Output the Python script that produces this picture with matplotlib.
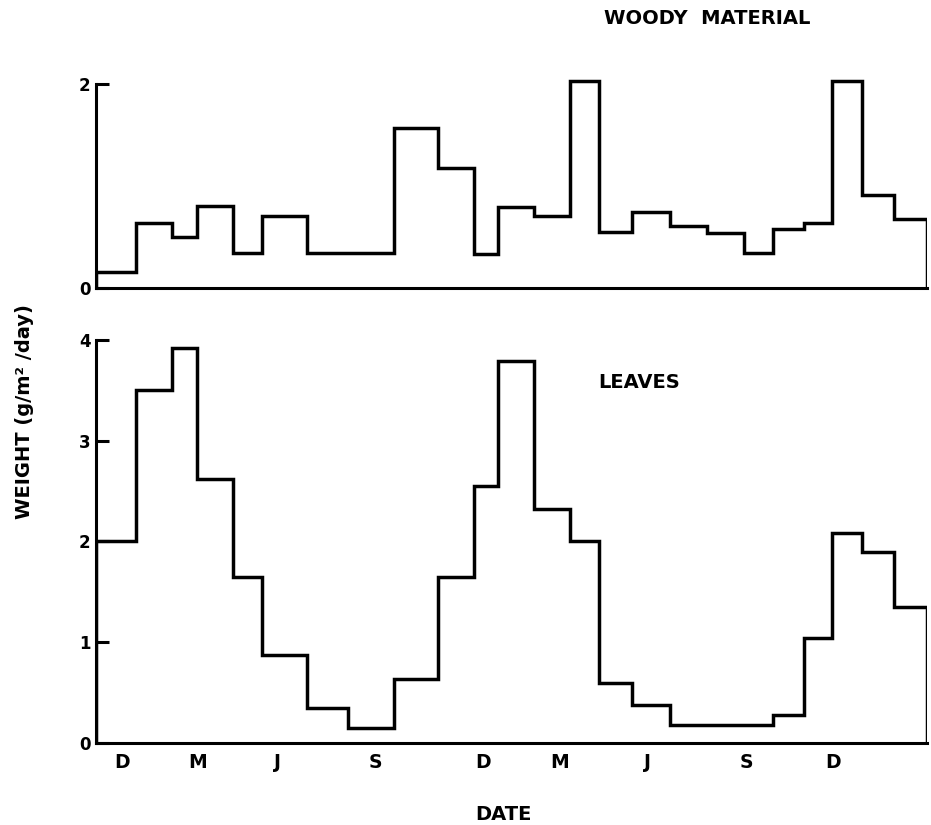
import matplotlib
matplotlib.use("Agg")
import matplotlib.pyplot as plt

plt.rcParams['font.family'] = ['DejaVu Sans']
plt.rcParams['font.weight'] = 'bold'

# sampling period edges (months from start of record)
edges = [0, 1.33, 2.54, 3.37, 4.55, 5.52, 7.01, 8.38, 9.91, 11.37, 12.57,
         13.36, 14.56, 15.76, 16.72, 17.82, 19.08, 20.31, 21.54, 22.5,
         23.55, 24.48, 25.48, 26.53, 27.63]

woody = [0.15, 0.64, 0.50, 0.80, 0.34, 0.70, 0.34, 0.34, 1.57, 1.18, 0.33,
         0.79, 0.70, 2.03, 0.55, 0.74, 0.61, 0.535, 0.34, 0.58, 0.64, 2.03,
         0.91, 0.67]

leaves = [2.00, 3.50, 3.92, 2.62, 1.65, 0.87, 0.35, 0.15, 0.64, 1.65, 2.55,
          3.79, 2.32, 2.00, 0.60, 0.38, 0.18, 0.18, 0.18, 0.28, 1.04, 2.08,
          1.90, 1.35]

month_pos = [0.86, 3.39, 6.02, 9.28, 12.86, 15.43, 18.35, 21.64, 24.5]
month_lab = ['D', 'M', 'J', 'S', 'D', 'M', 'J', 'S', 'D']

fig = plt.figure(figsize=(9.31, 8.25), dpi=100)
ax1 = fig.add_axes([0.1031, 0.6513, 0.8926, 0.253])
ax2 = fig.add_axes([0.1031, 0.0994, 0.8926, 0.4946])

def style(ax, top, yticks):
    ax.set_xlim(edges[0], edges[-1])
    ax.set_ylim(0, top)
    for s in ['top', 'right']:
        ax.spines[s].set_visible(False)
    for s in ['left', 'bottom']:
        ax.spines[s].set_linewidth(2.2)
    ax.spines['left'].set_bounds(0, yticks[-1])
    ax.set_yticks(yticks)
    ax.set_yticklabels([str(t) for t in yticks], fontsize=12, fontweight='bold')
    ax.tick_params(axis='y', direction='in', length=9, width=2.2, pad=4)

ax1.stairs(woody, edges, baseline=0, color='black', linewidth=2.5)
style(ax1, 2.05, [0, 2])
ax1.set_xticks([])

ax2.stairs(leaves, edges, baseline=0, color='black', linewidth=2.5)
style(ax2, 4.05, [0, 1, 2, 3, 4])
ax2.set_xticks(month_pos)
ax2.set_xticklabels(month_lab, fontsize=13.5, fontweight='bold')
ax2.tick_params(axis='x', length=0, pad=7)

fig.text(0.7594, 0.978, 'WOODY  MATERIAL', ha='center', va='center',
         fontsize=14, fontweight='bold')
fig.text(0.6864, 0.5358, 'LEAVES', ha='center', va='center',
         fontsize=14, fontweight='bold')
fig.text(0.5403, 0.0133, 'DATE', ha='center', va='center',
         fontsize=14, fontweight='bold')
fig.text(0.026, 0.5006, 'WEIGHT (g/m\u00b2 /day)', ha='center', va='center',
         rotation=90, fontsize=14, fontweight='bold')

fig.savefig('out.png', dpi=100)
